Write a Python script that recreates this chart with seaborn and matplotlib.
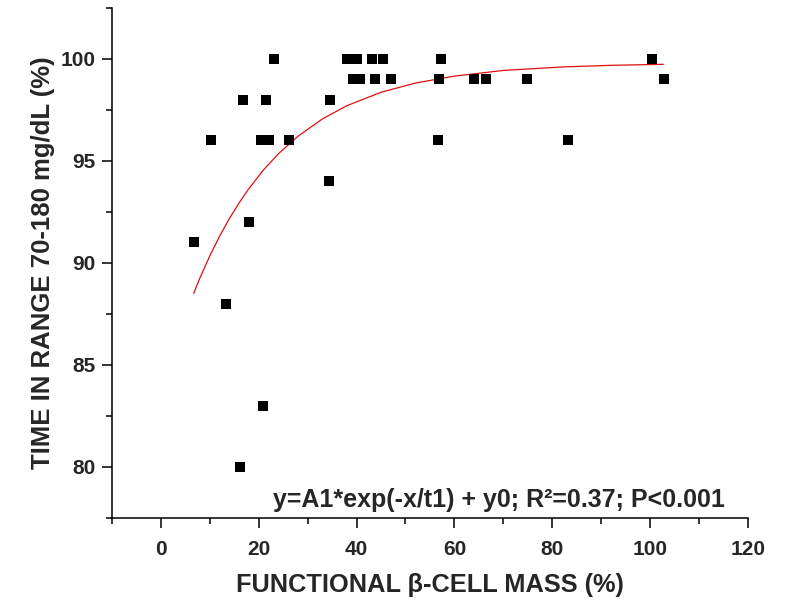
#!/usr/bin/env python3
"""Time in range vs functional beta-cell mass, with exponential fit curve."""

import matplotlib
matplotlib.use("Agg")
import matplotlib.pyplot as plt
import pandas as pd
import seaborn as sns
from matplotlib.ticker import MultipleLocator

# measured points (functional beta-cell mass %, time in range %)
beta_mass = [6.8, 10.2, 13.3, 16.1, 16.7, 18.1, 20.8, 20.4, 22.2, 21.4, 23.1,
             26.1, 34.3, 34.5, 38.0, 40.0, 39.2, 40.8, 43.1, 45.5, 43.7, 47.1,
             56.7, 56.9, 57.3, 64.1, 66.5, 74.9, 83.3, 100.4, 102.9]
time_in_range = [91, 96, 88, 80, 98, 92, 83, 96, 96, 98, 100,
                 96, 94, 98, 100, 100, 99, 99, 100, 100, 99, 99,
                 96, 99, 100, 99, 99, 99, 96, 100, 99]

# fitted curve
fit_x = [6.7, 8, 10, 12, 14, 16, 18, 21, 24, 28, 33, 38, 45, 52, 60, 70,
         82, 92, 102.7]
fit_y = [88.5, 89.27, 90.34, 91.3, 92.17, 92.94, 93.64, 94.56, 95.34, 96.2,
         97.05, 97.7, 98.36, 98.81, 99.15, 99.43, 99.6, 99.68, 99.73]

annotation = "y=A1*exp(-x/t1) + y0; R\u00b2=0.37; P<0.001"


def main() -> None:
    sns.set_theme(style="ticks")
    plt.rcParams["font.family"] = ["Liberation Sans", "DejaVu Sans"]
    plt.rcParams["font.weight"] = "bold"

    points = pd.DataFrame({"x": beta_mass, "y": time_in_range})
    curve = pd.DataFrame({"x": fit_x, "y": fit_y})

    fig = plt.figure(figsize=(7.94, 6.0), dpi=100)
    ax = fig.add_axes([0.141, 0.137, 0.801, 0.850])

    sns.lineplot(data=curve, x="x", y="y", color="#e01010", linewidth=0.9,
                 ax=ax, zorder=2)
    sns.scatterplot(data=points, x="x", y="y", marker="s", color="black",
                    s=62, linewidth=0, ax=ax, zorder=3)

    ax.set_xlim(-10, 120)
    ax.set_ylim(77.5, 102.5)
    ax.xaxis.set_major_locator(MultipleLocator(20))
    ax.xaxis.set_minor_locator(MultipleLocator(10))
    ax.yaxis.set_major_locator(MultipleLocator(5))
    ax.yaxis.set_minor_locator(MultipleLocator(2.5))
    ax.tick_params(which="major", length=7, width=1.1, labelsize=15,
                   color="black")
    ax.tick_params(axis="x", which="major", pad=9)
    ax.tick_params(axis="y", which="major", pad=5)
    ax.tick_params(which="minor", length=4, width=1.1, color="black")
    for lab in ax.get_xticklabels() + ax.get_yticklabels():
        lab.set_fontweight("bold")

    sns.despine(ax=ax)
    for side in ("left", "bottom"):
        ax.spines[side].set_linewidth(1.1)
        ax.spines[side].set_color("black")

    ax.set_xlabel("FUNCTIONAL \u03b2-CELL MASS (%)", fontsize=18.3,
                  fontweight="bold", labelpad=10)
    ax.set_ylabel("TIME IN RANGE 70-180 mg/dL (%)", fontsize=18.5,
                  fontweight="bold", labelpad=4)
    ax.text(0.964, 0.022, annotation, transform=ax.transAxes, ha="right",
            va="baseline", fontsize=18, fontweight="bold")

    fig.savefig("out.png", dpi=100)


if __name__ == "__main__":
    main()
